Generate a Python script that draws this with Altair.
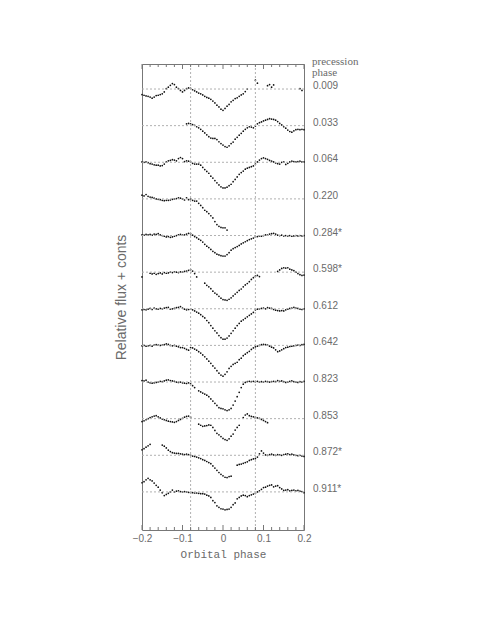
import altair as alt
import pandas as pd

# Orbital phase sampling grid of the light curves
PHASE = [round(-0.2 + 0.005 * k, 3) for k in range(81)]

PREC_LABELS = ["0.009", "0.033", "0.064", "0.220", "0.284*", "0.598*",
               "0.612", "0.642", "0.823", "0.853", "0.872*", "0.911*"]

N = None
# relative flux (offset from each curve's dotted reference level)
CURVE_0009 = [-0.15, -0.17, -0.19, -0.20, -0.22, -0.25, -0.22, -0.18, -0.17, -0.15,
              -0.13, -0.08, 0.01, 0.05, 0.10, 0.15, 0.12, 0.05, 0.01, -0.04,
              -0.08, -0.04, 0.01, 0.03, 0.02, -0.02, -0.05, -0.08, -0.11, -0.13,
              -0.16, -0.20, -0.23, -0.25, -0.28, -0.33, -0.38, -0.44, -0.49, -0.55,
              -0.58, -0.53, -0.47, -0.42, -0.35, -0.31, -0.26, -0.24, -0.20, -0.16,
              -0.13, -0.07, 0.00, N, N, N, 0.24, 0.16, N, N,
              N, N, 0.09, 0.12, 0.05, 0.11, N, N, N, N,
              N, N, N, N, N, N, N, N, 0.01, -0.04,
              N]
CURVE_0033 = [N, N, N, N, N, N, N, N, N, N,
              N, N, N, N, N, N, N, N, N, N,
              N, N, 0.05, 0.06, 0.05, 0.03, 0.01, -0.03, -0.06, -0.10,
              -0.15, -0.20, -0.25, -0.30, -0.34, -0.35, -0.35, -0.38, -0.44, -0.49,
              -0.53, -0.57, -0.59, -0.55, -0.49, -0.45, -0.37, -0.32, -0.26, -0.21,
              -0.15, -0.10, -0.06, -0.03, -0.04, -0.06, -0.01, 0.05, 0.08, 0.10,
              0.13, 0.15, 0.17, 0.19, 0.18, 0.17, 0.15, 0.11, 0.06, 0.02,
              -0.03, -0.07, -0.12, -0.16, -0.18, -0.14, -0.11, -0.10, -0.11, -0.10,
              -0.11]
CURVE_0064 = [0.01, 0.00, 0.01, -0.01, -0.04, -0.05, -0.07, -0.08, -0.08, -0.10,
              -0.09, -0.05, 0.01, 0.04, 0.05, 0.07, 0.06, 0.04, 0.10, 0.13,
              0.10, 0.02, 0.04, 0.03, 0.01, -0.03, -0.05, -0.05, -0.05, -0.08,
              -0.14, -0.20, -0.25, -0.30, -0.38, -0.43, -0.50, -0.56, -0.62, -0.67,
              -0.70, -0.70, -0.68, -0.64, -0.60, -0.53, -0.47, -0.40, -0.33, -0.28,
              -0.24, -0.19, -0.16, -0.14, -0.12, -0.10, -0.05, 0.01, 0.06, 0.10,
              0.12, 0.10, 0.08, 0.05, 0.03, 0.01, -0.02, -0.04, -0.05, 0.00,
              0.01, -0.06, -0.03, 0.01, 0.03, 0.02, 0.01, 0.02, 0.03, 0.01,
              0.01]
CURVE_0220 = [0.10, 0.08, 0.12, 0.07, 0.05, 0.04, 0.02, 0.00, -0.01, -0.02,
              -0.04, -0.05, -0.04, -0.04, -0.03, -0.01, 0.00, 0.01, 0.03, 0.02,
              0.00, -0.03, 0.03, -0.02, 0.00, -0.04, -0.06, -0.06, -0.12, -0.18,
              -0.24, -0.31, -0.35, -0.40, -0.46, -0.52, -0.62, -0.70, -0.75, -0.78,
              -0.79, -0.79, -0.85, N, N, N, N, N, N, N,
              N, N, N, N, N, N, N, N, N, N,
              N, N, N, N, N, N, N, N, N, N,
              N, N, N, N, N, N, N, N, N, N,
              N]
CURVE_0284 = [0.02, 0.01, 0.03, 0.02, 0.03, 0.01, 0.04, 0.03, 0.05, 0.02,
              0.00, -0.02, -0.04, -0.03, -0.05, -0.04, -0.02, 0.00, 0.02, 0.03,
              0.01, 0.02, 0.04, 0.06, 0.05, 0.01, -0.03, -0.06, -0.10, -0.13,
              -0.18, -0.24, -0.29, -0.33, -0.38, -0.43, -0.47, -0.51, -0.53, -0.55,
              -0.56, -0.56, -0.52, -0.47, -0.40, -0.36, -0.33, -0.30, -0.27, -0.23,
              -0.20, -0.17, -0.14, -0.11, -0.09, -0.07, -0.04, -0.03, -0.01, -0.02,
              0.00, 0.02, 0.01, 0.04, 0.05, 0.06, 0.04, 0.01, 0.00, 0.01,
              -0.01, 0.00, -0.01, 0.00, -0.02, -0.01, 0.00, -0.01, 0.00, -0.01,
              0.00]
CURVE_0598 = [-0.13, N, N, N, -0.03, -0.05, -0.03, -0.06, -0.04, -0.02,
              -0.05, -0.01, -0.03, -0.02, 0.00, -0.01, 0.01, 0.00, -0.01, 0.01,
              0.00, 0.02, 0.03, 0.05, 0.07, 0.03, -0.04, -0.13, N, N,
              N, -0.30, -0.36, -0.40, -0.45, -0.52, -0.57, -0.61, -0.66, -0.71,
              -0.75, -0.76, -0.77, -0.74, -0.70, -0.65, -0.60, -0.55, -0.50, -0.46,
              -0.40, -0.35, -0.31, -0.26, -0.20, -0.15, -0.11, -0.09, -0.12, N,
              N, N, N, N, N, N, N, 0.02, 0.06, 0.10,
              0.12, 0.11, 0.12, 0.08, 0.06, 0.04, 0.00, -0.04, -0.07, -0.09,
              -0.08]
CURVE_0612 = [-0.03, -0.02, -0.03, -0.01, 0.01, -0.02, 0.02, 0.00, -0.01, 0.01,
              0.00, 0.02, 0.03, 0.04, -0.01, 0.00, 0.01, 0.03, 0.04, 0.06,
              0.02, -0.01, -0.03, -0.02, -0.01, -0.03, -0.06, -0.09, -0.12, -0.16,
              -0.21, -0.25, -0.32, -0.38, -0.46, -0.53, -0.60, -0.66, -0.73, -0.79,
              -0.83, -0.83, -0.80, -0.74, -0.67, -0.60, -0.53, -0.46, -0.40, -0.34,
              -0.30, -0.26, -0.22, -0.18, -0.14, -0.10, -0.03, -0.01, 0.00, 0.01,
              0.02, 0.00, 0.03, 0.02, 0.01, -0.02, -0.04, -0.05, -0.06, -0.05,
              -0.06, -0.03, -0.01, 0.01, 0.02, 0.04, 0.02, 0.01, -0.01, -0.02,
              0.00]
CURVE_0642 = [-0.01, 0.00, -0.02, -0.01, 0.00, -0.02, 0.01, 0.02, 0.01, 0.00,
              0.01, 0.02, 0.04, 0.03, 0.00, -0.01, 0.00, -0.02, -0.04, -0.06,
              -0.06, -0.08, -0.11, -0.13, -0.06, -0.07, -0.10, -0.13, -0.17, -0.21,
              -0.26, -0.31, -0.37, -0.43, -0.49, -0.56, -0.62, -0.69, -0.76, -0.81,
              -0.84, -0.79, -0.72, -0.63, -0.57, -0.52, -0.49, -0.46, -0.39, -0.35,
              -0.28, -0.24, -0.20, -0.16, -0.11, -0.07, -0.04, -0.02, 0.00, 0.02,
              0.03, 0.02, 0.01, -0.02, -0.05, -0.07, -0.12, -0.17, -0.15, -0.12,
              -0.09, -0.06, -0.05, -0.03, -0.02, -0.01, 0.00, 0.01, 0.00, 0.02,
              0.03]
CURVE_0823 = [0.04, 0.03, 0.05, 0.00, -0.02, -0.03, -0.02, -0.01, 0.00, 0.02,
              0.01, 0.03, 0.05, 0.06, 0.04, 0.03, 0.02, 0.00, -0.01, 0.00,
              -0.02, -0.03, -0.04, -0.02, -0.05, -0.10, -0.15, N, -0.24, -0.27,
              -0.30, -0.33, -0.36, -0.40, -0.46, -0.52, -0.58, -0.64, -0.70, -0.72,
              -0.73, -0.76, -0.78, -0.76, -0.72, -0.63, -0.52, -0.40, -0.28, -0.15,
              -0.06, -0.01, 0.01, 0.02, 0.01, 0.02, 0.01, 0.02, 0.00, 0.01,
              0.00, 0.02, 0.01, 0.00, 0.01, 0.02, 0.01, 0.04, 0.02, 0.03,
              0.01, -0.01, 0.00, 0.02, 0.03, 0.01, 0.00, -0.01, 0.01, 0.00,
              0.02]
CURVE_0853 = [-0.08, -0.06, -0.03, 0.00, 0.03, 0.05, 0.07, 0.08, 0.05, 0.02,
              -0.01, -0.03, -0.05, -0.07, -0.08, -0.09, -0.10, -0.08, -0.05, -0.02,
              0.01, 0.04, 0.06, 0.07, 0.04, N, N, N, -0.15, -0.18,
              -0.21, -0.20, -0.19, -0.17, -0.18, -0.24, -0.32, -0.40, -0.44, -0.49,
              -0.54, -0.57, -0.59, -0.55, -0.48, -0.42, -0.31, -0.24, -0.18, N,
              0.03, 0.10, 0.13, 0.08, 0.06, 0.05, 0.04, 0.02, 0.01, -0.02,
              -0.05, -0.08, -0.11, N, N, N, N, N, N, N,
              N, N, N, N, N, N, N, N, N, N,
              N]
CURVE_0872 = [0.15, 0.18, 0.22, 0.26, 0.30, N, N, N, N, N,
              0.28, 0.25, 0.20, 0.14, 0.10, 0.07, 0.06, 0.05, 0.05, 0.04,
              0.03, 0.02, 0.03, 0.02, 0.00, -0.02, -0.03, -0.05, -0.07, -0.09,
              -0.12, -0.14, -0.17, -0.20, -0.23, -0.29, -0.35, -0.41, -0.47, -0.52,
              -0.56, -0.60, -0.61, -0.58, -0.57, N, N, -0.27, -0.25, -0.24,
              -0.22, -0.20, -0.18, -0.14, -0.12, -0.10, -0.09, -0.05, 0.04, 0.12,
              0.06, 0.01, 0.00, 0.02, 0.03, 0.01, 0.00, 0.02, 0.01, 0.00,
              0.02, 0.03, 0.04, 0.02, 0.03, 0.01, 0.00, -0.01, 0.00, -0.02,
              -0.03]
CURVE_0911 = [0.25, 0.28, 0.33, 0.37, 0.33, 0.30, 0.24, 0.18, 0.13, 0.05,
              -0.02, -0.10, -0.07, -0.04, 0.00, 0.05, 0.00, 0.02, 0.03, 0.01,
              0.00, 0.01, 0.00, -0.01, -0.02, -0.02, -0.03, -0.03, -0.04, -0.05,
              -0.05, -0.06, -0.09, -0.11, -0.15, -0.24, -0.29, -0.38, -0.42, -0.46,
              -0.47, -0.49, -0.48, -0.47, -0.42, -0.35, -0.30, -0.19, -0.15, -0.11,
              -0.09, -0.10, -0.13, -0.10, -0.08, -0.06, -0.04, 0.00, 0.03, 0.07,
              0.12, 0.13, 0.16, 0.18, 0.19, 0.14, 0.16, 0.17, 0.12, 0.08,
              0.04, 0.05, 0.06, 0.03, 0.04, 0.05, 0.03, 0.04, 0.02, 0.01,
              -0.02]

CURVES = [CURVE_0009, CURVE_0033, CURVE_0064, CURVE_0220, CURVE_0284, CURVE_0598,
          CURVE_0612, CURVE_0642, CURVE_0823, CURVE_0853, CURVE_0872, CURVE_0911]

ECLIPSE_EDGES = [-0.08, 0.08]
MAJOR_TICKS = [-0.2, -0.1, 0.0, 0.1, 0.2]
MINOR_TICKS = [-0.18, -0.16, -0.14, -0.12, -0.08, -0.06, -0.04, -0.02,
               0.02, 0.04, 0.06, 0.08, 0.12, 0.14, 0.16, 0.18]

W, H = 162, 466
GRAY = "#6a6a6a"

rows = []
for i, curve in enumerate(CURVES):
    for p, v in zip(PHASE, curve):
        if v is not None:
            rows.append({"phase": p, "flux": -i + v, "curve": i})
pts = pd.DataFrame(rows)
base = pd.DataFrame({"offset": [-i for i in range(len(CURVES))], "label": PREC_LABELS})

xs = alt.Scale(domain=[-0.2, 0.2], nice=False, zero=False)
ys = alt.Scale(domain=[-12.04, 0.683], nice=False, zero=False)

x_axis = alt.Axis(values=MAJOR_TICKS, ticks=False, domain=False, grid=False,
                  labelFlush=False, labelOverlap=False, labelPadding=3,
                  labelFont="Liberation Sans", labelFontSize=10, labelColor=GRAY,
                  labelExpr="datum.value == 0 ? '0' : replace(format(datum.value, '.1f'), '-', '\u2212')",
                  title="Orbital phase", titleFont="Liberation Mono", titleFontSize=11,
                  titleFontWeight="normal", titleColor=GRAY, titlePadding=5)
y_axis = alt.Axis(labels=False, ticks=False, domain=False, grid=False,
                  title="Relative flux + conts", titleFont="Liberation Sans",
                  titleFontSize=14, titleFontWeight="normal", titleColor=GRAY,
                  titlePadding=14)


def X(field):
    return alt.X(field, scale=xs, axis=x_axis)


def Y(field):
    return alt.Y(field, scale=ys, axis=y_axis)


hlines = alt.Chart(base).mark_rule(color="#b0b0b0", strokeDash=[2, 2], strokeWidth=1).encode(
    y=Y("offset:Q"))
vlines = alt.Chart(pd.DataFrame({"e": ECLIPSE_EDGES})).mark_rule(
    color="#b0b0b0", strokeDash=[2, 2], strokeWidth=1).encode(x=X("e:Q"))

maj = pd.DataFrame({"t": MAJOR_TICKS})
mnr = pd.DataFrame({"t": MINOR_TICKS})
tick_layers = []
for df, ln in [(maj, 5), (mnr, 3)]:
    tick_layers.append(alt.Chart(df).mark_rule(color="#777", strokeWidth=1).encode(
        x=X("t:Q"), y=alt.value(H), y2=alt.value(H - ln)))
    tick_layers.append(alt.Chart(df).mark_rule(color="#777", strokeWidth=1).encode(
        x=X("t:Q"), y=alt.value(0), y2=alt.value(ln)))

points = alt.Chart(pts).mark_circle(size=3, color="#111", opacity=1).encode(
    x=X("phase:Q"), y=Y("flux:Q"))

labels = alt.Chart(base).mark_text(align="left", baseline="middle", dy=-3,
                                   font="Liberation Sans", fontSize=10, color=GRAY).encode(
    x=alt.value(W + 9), y=Y("offset:Q"), text="label:N")

header = alt.Chart(pd.DataFrame({"h": [0]})).mark_text(
    text=["precession", "phase"], align="left", baseline="top", lineHeight=11,
    font="Liberation Serif", fontSize=11, color=GRAY).encode(
    x=alt.value(W + 8), y=alt.value(-8))

chart = alt.layer(points, hlines, vlines, *tick_layers, labels, header).properties(
    width=W, height=H,
    autosize=alt.AutoSizeParams(type="none"),
    padding={"left": 134, "top": 56, "right": 150, "bottom": 70},
).configure_view(stroke="#777", strokeWidth=1)

chart.save("out.html", embed_options={"renderer": "svg", "actions": False})
